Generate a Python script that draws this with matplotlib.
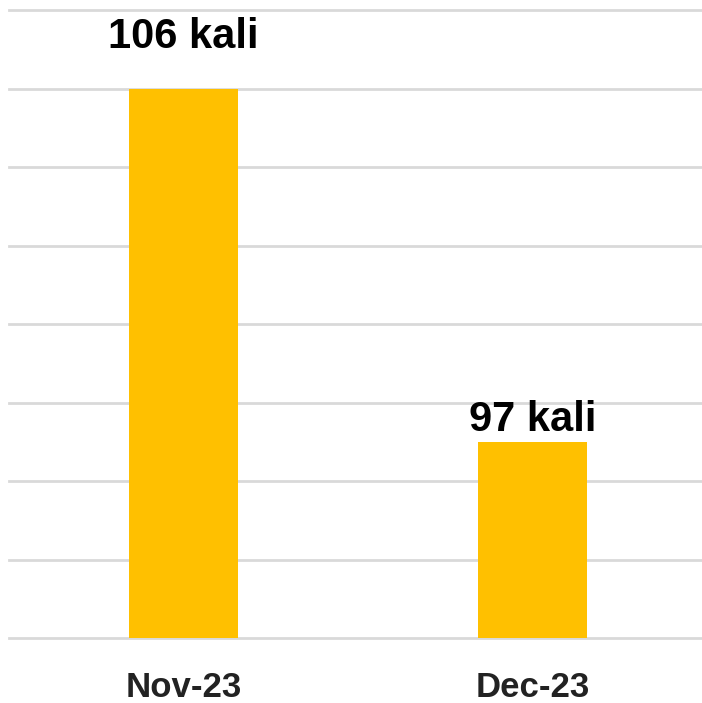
import matplotlib.pyplot as plt

months = ['Nov-23', 'Dec-23']
counts = [106, 97]
labels = ['106 kali', '97 kali']
label_offsets = [23, 1]  # points above bar top

fig = plt.figure(figsize=(7.02, 7.03), dpi=100)
ax = fig.add_axes([9 / 702, 65 / 703, 698 / 702, 628 / 703])

x = range(len(months))
ax.bar(x, counts, width=0.31, color='#FFC000', zorder=3)

ax.set_ylim(92, 108)
ax.set_yticks(range(92, 109, 2))
ax.set_xlim(-0.5, 1.5)
ax.grid(axis='y', color='#d9d9d9', linewidth=2, zorder=0)
for gl in ax.get_ygridlines():
    gl.set_clip_on(False)
ax.tick_params(axis='y', left=False, labelleft=False)
ax.tick_params(axis='x', length=0, pad=24)
ax.set_xticks(list(x))
ax.set_xticklabels(months, fontsize=25, fontweight='bold',
                   family='Liberation Sans', color='#222222')
for s in ax.spines.values():
    s.set_visible(False)

for i, (v, lab) in enumerate(zip(counts, labels)):
    ax.annotate(lab, (i, v), xytext=(0, label_offsets[i]),
                textcoords='offset points', ha='center', va='bottom',
                fontsize=30, fontweight='bold', family='Liberation Sans',
                color='black')

fig.savefig('out.png', dpi=100)
